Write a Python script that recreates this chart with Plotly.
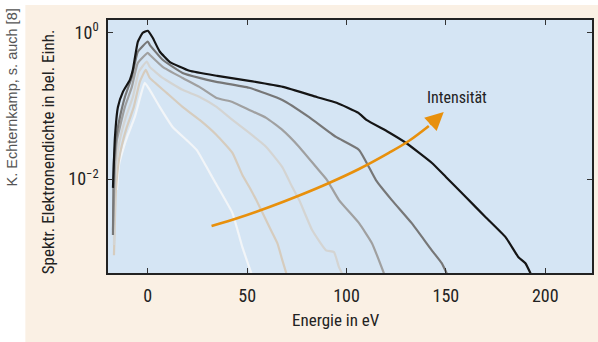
import numpy as np
import plotly.graph_objects as go

# ---- data (energy in eV, spectral electron density in arb. units) ----
black_x = [-17.5, -16.5, -15, -12.5, -9, -7.5, -5, -2.5, 0, 2.5, 6, 11, 21, 35, 51, 68, 85, 95, 106, 110, 121, 130, 143, 150, 160, 170, 180, 186.5, 190, 193]
black_y = [0.0076, 0.0376, 0.0966, 0.155, 0.226, 0.309, 0.746, 0.99, 1.055, 0.846, 0.55, 0.398, 0.300, 0.256, 0.219, 0.181, 0.132, 0.110, 0.080, 0.0642, 0.044, 0.0311, 0.0166, 0.0107, 0.00569, 0.00303, 0.00162, 0.000862, 0.000714, 0.00049]

dgray_x = [-17.5, -17, -15.5, -14, -11.5, -8, -5, 0, 1, 7.5, 17.5, 26, 34.5, 51, 67.7, 81, 94.7, 106.3, 114.8, 122.8, 132.8, 142.9, 147.9, 150.4]
dgray_y = [0.00173, 0.0182, 0.0427, 0.0705, 0.132, 0.248, 0.545, 0.753, 0.679, 0.424, 0.281, 0.240, 0.212, 0.176, 0.120, 0.0705, 0.0376, 0.0250, 0.00972, 0.00518, 0.00251, 0.00107, 0.000714, 0.000521]

gray_x = [-17.5, -17, -16.5, -15.5, -14, -11.5, -8, -5, 0, 1, 7.5, 17.5, 26, 34.6, 42.6, 51.1, 59.6, 67.7, 76.2, 84.7, 90.2, 96.2, 106.3, 112.8, 118.8]
gray_y = [0.00202, 0.00518, 0.0156, 0.0342, 0.0515, 0.0966, 0.181, 0.385, 0.528, 0.496, 0.340, 0.240, 0.181, 0.128, 0.113, 0.0879, 0.0684, 0.0469, 0.0275, 0.0146, 0.00972, 0.00518, 0.00251, 0.00134, 0.000521]

lgray_x = [-17, -16.5, -15, -13.5, -11, -7.5, -4.5, -0.5, 1, 7.5, 17.5, 26.1, 34.6, 42.6, 51.1, 59.6, 67.7, 72.7, 76.2, 82.7, 89.7, 93.7, 96.2, 97.7]
lgray_y = [0.00126, 0.00972, 0.0250, 0.0400, 0.0705, 0.132, 0.290, 0.402, 0.340, 0.240, 0.165, 0.132, 0.0966, 0.0642, 0.0427, 0.0275, 0.0146, 0.00780, 0.00518, 0.00202, 0.00107, 0.00101, 0.000630, 0.000521]

beige_x = [-17, -16, -14.5, -13, -10.5, -7, -4, -1, 1, 9.5, 17.5, 26.1, 34.6, 42.6, 47.6, 51.1, 54.6, 61.2, 65.2, 67.7, 69.7]
beige_y = [0.000918, 0.00710, 0.0182, 0.0292, 0.0515, 0.0966, 0.212, 0.309, 0.240, 0.150, 0.0966, 0.0642, 0.0400, 0.0228, 0.01138, 0.00780, 0.00518, 0.00222, 0.00134, 0.000785, 0.000521]

white_x = [-15.5, -14.5, -12.5, -10, -6.5, -3.5, -1.5, 1, 6, 12.5, 19.5, 24.6, 29.6, 34.1, 42.6, 47.6, 52.1]
white_y = [0.00710, 0.0156, 0.0250, 0.0400, 0.0705, 0.141, 0.206, 0.165, 0.0966, 0.0515, 0.0342, 0.0250, 0.0146, 0.00885, 0.00344, 0.00118, 0.000521]

# intensity arrow path (decoration)
arrow_x = [32.1, 46.1, 61.2, 76.2, 91.2, 106.3, 121.3, 131.3, 141.4]
arrow_y = [0.00229, 0.00299, 0.00416, 0.00597, 0.00885, 0.01374, 0.0228, 0.0331, 0.0531]
arrow_tip = (148.9, 0.0826)

x_ticks = [0, 50, 100, 150, 200]
y_ticks = [1, 0.01]
y_ticktext = ["10<sup>0</sup>", "10<sup>\u22122</sup>"]

series = [
    (white_x, white_y, "#f2f5f8"),
    (beige_x, beige_y, "#d6ccbe"),
    (lgray_x, lgray_y, "#d4d4d2"),
    (gray_x, gray_y, "#a0a0a0"),
    (dgray_x, dgray_y, "#777777"),
    (black_x, black_y, "#151515"),
]

FONT = "Liberation Sans Narrow, Roboto Condensed, DejaVu Sans Condensed, Arial Narrow, sans-serif"
BEIGE = "#faf0e4"
PLOTBG = "#d5e5f4"
ORANGE = "#e8900c"

fig = go.Figure()
for xs, ys, c in series:
    fig.add_trace(go.Scatter(x=xs, y=ys, mode="lines",
                             line=dict(color=c, width=2.2, shape="spline", smoothing=0.4),
                             hoverinfo="skip", showlegend=False))

fig.add_trace(go.Scatter(x=arrow_x, y=arrow_y, mode="lines",
                         line=dict(color=ORANGE, width=2.6, shape="spline"),
                         hoverinfo="skip", showlegend=False))

W, H = 598, 342
L, R, T, B = 108, 4, 20, 69
pw, ph = W - L - R, H - T - B

def px2paper_x(px):
    return (px - L) / pw

def py2paper_y(py):
    return (H - B - py) / ph

annotations = [
    # arrow head
    dict(x=arrow_tip[0], y=np.log10(arrow_tip[1]), xref="x", yref="y",
         text="", showarrow=True, ax=-15, ay=14, arrowhead=2, arrowsize=1.4,
         arrowwidth=2.6, arrowcolor=ORANGE),
    dict(x=155.5, y=np.log10(0.128), xref="x", yref="y", text="Intensität",
         xanchor="center", yanchor="middle",
         showarrow=False, font=dict(family=FONT, size=16, color="#222222")),
    dict(x=px2paper_x(48), y=py2paper_y(152), xref="paper", yref="paper",
         xanchor="center", yanchor="middle",
         text="Spektr. Elektronendichte in bel. Einh.", textangle=-90,
         showarrow=False, font=dict(family=FONT, size=17, color="#222222")),
    dict(x=px2paper_x(337), y=py2paper_y(320), xref="paper", yref="paper",
         xanchor="center", yanchor="middle",
         text="Energie in eV", showarrow=False,
         font=dict(family=FONT, size=17, color="#222222")),
    dict(x=px2paper_x(12), y=py2paper_y(97), xref="paper", yref="paper",
         xanchor="center", yanchor="middle",
         text="K. Echternkamp, s. auch [8]", textangle=-90, showarrow=False,
         font=dict(family="Liberation Sans, Arial, sans-serif", size=14.5, color="#555555")),
]

shapes = [
    # white strip on the left and top outside the beige panel
    dict(type="rect", xref="paper", yref="paper", x0=px2paper_x(-5), x1=px2paper_x(25),
         y0=py2paper_y(H + 5), y1=py2paper_y(-5), fillcolor="white", line_width=0, layer="below"),
    dict(type="rect", xref="paper", yref="paper", x0=px2paper_x(-5), x1=px2paper_x(W + 5),
         y0=py2paper_y(5), y1=py2paper_y(-5), fillcolor="white", line_width=0, layer="below"),
]

axis_common = dict(showline=True, linecolor="#222222", linewidth=1.6, mirror="ticks",
                   ticks="inside", ticklen=5, tickwidth=1, tickcolor="#333333",
                   showgrid=False, zeroline=False,
                   tickfont=dict(family=FONT, size=18, color="#222222"))

fig.update_layout(
    width=W, height=H,
    margin=dict(l=L, r=R, t=T, b=B, pad=0),
    paper_bgcolor=BEIGE, plot_bgcolor=PLOTBG,
    xaxis=dict(range=[-20, 223.5], tickvals=x_ticks, ticklabelstandoff=6, **axis_common),
    yaxis=dict(type="log", range=[-3.28, 0.17], tickvals=y_ticks, ticktext=y_ticktext,
               ticklabelstandoff=4, **axis_common),
    annotations=annotations, shapes=shapes, showlegend=False,
)

fig.write_html("out.html")
